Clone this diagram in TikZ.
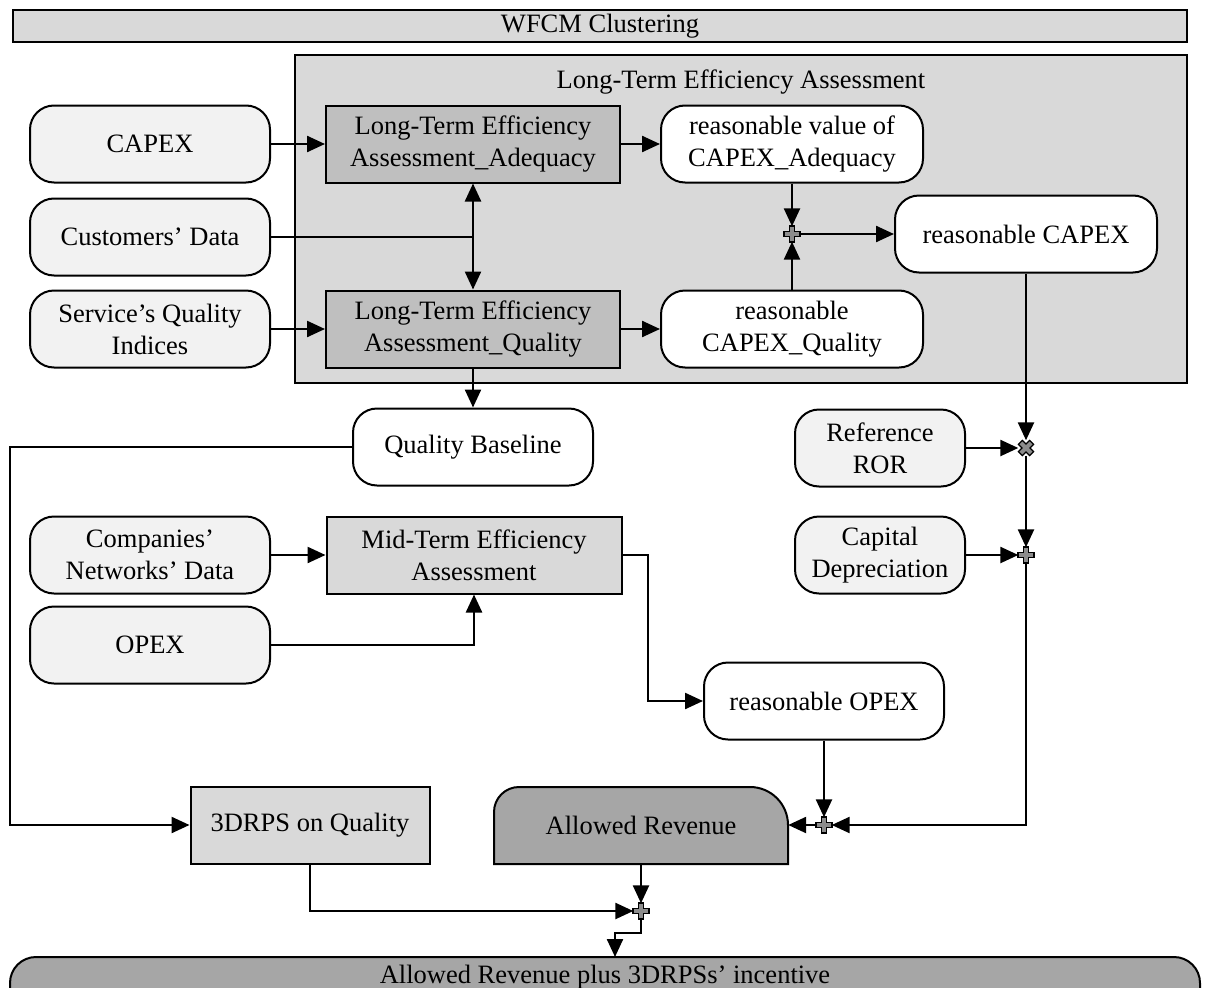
\documentclass[tikz,border=0pt]{standalone}
\usepackage{fontspec}
\setmainfont{Liberation Serif}
\usetikzlibrary{arrows.meta}
\definecolor{lg}{HTML}{D9D9D9}
\definecolor{vlg}{HTML}{F2F2F2}
\definecolor{mg}{HTML}{BFBFBF}
\definecolor{dg}{HTML}{A6A6A6}
\definecolor{pg}{HTML}{8C8C8C}
\begin{document}
\begin{tikzpicture}[x=1pt,y=-1pt,
  every node/.style={font=\fontsize{26.5}{32}\selectfont, align=center, inner sep=0pt},
  line/.style={line width=2.4pt, draw=black},
  arr/.style={line width=2.4pt, -{Triangle[length=18pt,width=16pt]}},
  darr/.style={line width=2.4pt, {Triangle[length=18pt,width=16pt]}-{Triangle[length=18pt,width=16pt]}},
  inbox/.style={draw=black, line width=2pt, rounded corners=24pt, fill=vlg, minimum width=240pt, minimum height=77pt},
  resbox/.style={draw=black, line width=2pt, rounded corners=24pt, fill=white},
  procbox/.style={draw=black, line width=2pt, fill=mg},
  lightbox/.style={draw=black, line width=2pt, fill=lg},
  junc/.style={minimum size=15pt, inner sep=0pt, draw=none},
  plussym/.pic={\draw[fill=pg, line width=1.2pt] (-2.8,-8) -- (2.8,-8) -- (2.8,-2.8) -- (8,-2.8) -- (8,2.8) -- (2.8,2.8) -- (2.8,8) -- (-2.8,8) -- (-2.8,2.8) -- (-8,2.8) -- (-8,-2.8) -- (-2.8,-2.8) -- cycle;}
]
\useasboundingbox (0,0) rectangle (1211,988);
\fill[white] (0,0) rectangle (1211,988);

% WFCM bar
\node[lightbox, minimum width=1174pt, minimum height=32pt] (wfcm) at (600,26) {WFCM Clustering};

% container
\node[lightbox, line width=2.4pt, minimum width=892pt, minimum height=328pt] (lte) at (741,219) {};
\node (ltetitle) at (741,82) {Long-Term Efficiency Assessment};

% inputs
\node[inbox] (capex) at (150,144) {CAPEX};
\node[inbox] (cust) at (150,237) {Customers’ Data};
\node[inbox] (sqi) at (150,329) {Service’s Quality\\Indices};
\node[inbox] (cnd) at (150,555) {Companies’\\Networks’ Data};
\node[inbox] (opex) at (150,645) {OPEX};

% long-term boxes
\node[procbox, minimum width=294pt, minimum height=77pt] (ltea) at (473,144) {Long-Term Efficiency\\Assessment\_Adequacy};
\node[procbox, minimum width=294pt, minimum height=77pt] (lteq) at (473,329) {Long-Term Efficiency\\Assessment\_Quality};

\node[resbox, minimum width=262pt, minimum height=77pt] (rva) at (792,144) {reasonable value of\\CAPEX\_Adequacy};
\node[resbox, minimum width=262pt, minimum height=77pt] (rcq) at (792,329) {reasonable\\CAPEX\_Quality};
\node[resbox, minimum width=262pt, minimum height=77pt] (rc) at (1026,234) {reasonable CAPEX};

\node[junc] (p1) at (792,234) {};

\node[resbox, minimum width=240pt, minimum height=77pt] (qb) at (473,447) {Quality Baseline};

\node[inbox, minimum width=170pt] (ror) at (880,448) {Reference\\ROR};
\node[inbox, minimum width=170pt] (cdep) at (880,555) {Capital\\Depreciation};
\node[junc] (x1) at (1026,448) {};
\node[junc] (p2) at (1026,555) {};

\node[lightbox, minimum width=295pt, minimum height=77pt] (mt) at (474,555) {Mid-Term Efficiency\\Assessment};
\node[resbox, minimum width=240pt, minimum height=77pt] (ro) at (824,701) {reasonable OPEX};

\node[lightbox, minimum width=239pt, minimum height=77pt] (drps) at (310,825) {3DRPS on Quality};

% Allowed revenue
\draw[fill=dg, line width=2pt] (494,864) [rounded corners=25pt] -- (494,787) [rounded corners=38pt] -- (788,787) [sharp corners] -- (788,864) -- cycle;
\node[minimum width=294pt, minimum height=77pt] (ar) at (641,825) {Allowed Revenue};
\node[junc] (p4) at (824,825) {};
\node[junc] (p3) at (641,911) {};

% final
\draw[fill=dg, line width=2pt, rounded corners=26pt] (10,957) rectangle (1200,1016);
\coordinate (fin) at (615,957);
\node (fintext) at (605,977) {Allowed Revenue plus 3DRPSs’ incentive};

% connectors
\draw[arr] (capex) -- (ltea);
\draw[line] (cust.east) -- (ltea.south |- cust.east);
\draw[darr] (ltea.south) -- (lteq.north);
\draw[arr] (sqi) -- (lteq);
\draw[arr] (ltea) -- (rva);
\draw[arr] (lteq) -- (rcq);
\draw[arr] (rva.south) -- (p1);
\draw[arr] (rcq.north) -- (p1);
\draw[arr] (p1) -- (rc.west |- p1);
\draw[arr] (lteq.south) -- (qb.north);
\draw[arr] (rc.south) -- (x1);
\draw[arr] (ror.east) -- (x1);
\draw[arr] (x1) -- (p2);
\draw[arr] (cdep.east) -- (p2);
\draw[arr] (p2) -- (p2 |- p4) -- (p4);
\draw[arr] (ro.south) -- (p4);
\draw[arr] (p4) -- (ar.east);
\draw[arr] (qb.west) -- (10,447) -- (10,825) -- (drps.west);
\draw[arr] (cnd.east) -- (mt.west);
\draw[arr] (opex.east) -- (mt.south |- opex.east) -- (mt.south);
\draw[arr] (mt.east) -- (648,555) -- (648,701) -- (ro.west);
\draw[arr] (drps.south) -- (drps.south |- p3) -- (p3);
\draw[arr] (ar.south) -- (p3);
\draw[arr] (p3) -- (641,933) -- (615,933) -- (fin);

% junction symbols
\pic at (p1) {plussym};
\pic at (p2) {plussym};
\pic at (p3) {plussym};
\pic at (p4) {plussym};
\pic[rotate=45] at (x1) {plussym};
\end{tikzpicture}
\end{document}
